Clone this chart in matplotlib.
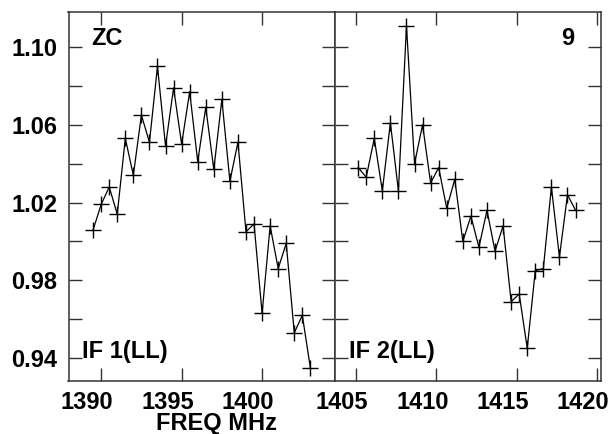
import matplotlib
matplotlib.use("Agg")
import matplotlib.pyplot as plt
from matplotlib.transforms import ScaledTranslation

plt.rcParams['font.family'] = ['Liberation Sans', 'DejaVu Sans']
plt.rcParams['font.weight'] = 'bold'

# IF 1 (LL) channels
freq1 = [1389.5, 1390.0, 1390.5, 1391.0, 1391.5, 1392.0, 1392.5, 1393.0,
         1393.5, 1394.0, 1394.5, 1395.0, 1395.5, 1396.0, 1396.5, 1397.0,
         1397.5, 1398.0, 1398.5, 1399.0, 1399.5, 1400.0, 1400.5, 1401.0,
         1401.5, 1402.0, 1402.5, 1403.0]
amp1 = [1.006, 1.019, 1.028, 1.014, 1.053, 1.034, 1.065, 1.051,
        1.090, 1.049, 1.079, 1.050, 1.077, 1.041, 1.069, 1.037,
        1.073, 1.031, 1.051, 1.005, 1.009, 0.963, 1.008, 0.986,
        0.999, 0.953, 0.962, 0.935]

# IF 2 (LL) channels
freq2 = [1405.15, 1405.65, 1406.15, 1406.65, 1407.15, 1407.65, 1408.15, 1408.65,
         1409.15, 1409.65, 1410.15, 1410.65, 1411.15, 1411.65, 1412.15, 1412.65,
         1413.15, 1413.65, 1414.15, 1414.65, 1415.15, 1415.65, 1416.15, 1416.65,
         1417.15, 1417.65, 1418.15, 1418.65]
amp2 = [1.038, 1.033, 1.053, 1.026, 1.061, 1.026, 1.111, 1.040,
        1.060, 1.030, 1.038, 1.017, 1.032, 1.000, 1.013, 0.997,
        1.016, 0.995, 1.008, 0.969, 0.973, 0.945, 0.985, 0.986,
        1.028, 0.992, 1.024, 1.016]

xticks1 = [1390, 1395, 1400]
xticks2 = [1405, 1410, 1415, 1420]
yticks = [0.94, 0.98, 1.02, 1.06, 1.10]
yminor = [0.96, 1.00, 1.04, 1.08]

FS = 17
W, H = 613, 434
fig = plt.figure(figsize=(W / 100, H / 100), dpi=100)

def px(x0, y0, x1, y1):
    return [x0 / W, 1 - y1 / H, (x1 - x0) / W, (y1 - y0) / H]

ax1 = fig.add_axes(px(68.5, 12, 334.5, 381))
ax2 = fig.add_axes(px(334.5, 12, 600.5, 381))

shift = ScaledTranslation(-14 / 100, 0, fig.dpi_scale_trans)

for ax, f, a, xt, xl in [(ax1, freq1, amp1, xticks1, (1387.97, 1404.5)),
                         (ax2, freq2, amp2, xticks2, (1403.68, 1420.2))]:
    ax.plot(f, a, color='black', lw=0.9, marker='+', ms=12, mew=1.0)
    ax.set_xlim(*xl)
    ax.set_ylim(0.9282, 1.118)
    ax.set_xticks(xt)
    ax.set_yticks(yticks)
    ax.set_yticks(yminor, minor=True)
    ax.tick_params(which='both', direction='in', top=True, right=True,
                   length=9.5, width=1, labelsize=FS, color='#333333')
    ax.tick_params(axis='x', pad=7)
    ax.tick_params(axis='y', pad=8)
    for s in ax.spines.values():
        s.set_linewidth(1.1)
        s.set_color('#333333')
    for lab in ax.get_xticklabels():
        lab.set_fontweight('bold')
        lab.set_transform(lab.get_transform() + shift)
    for lab in ax.get_yticklabels():
        lab.set_fontweight('bold')

ax1.set_yticklabels(['0.94', '0.98', '1.02', '1.06', '1.10'])
ax2.tick_params(labelleft=False)

def ftext(x, y, s, ha='left'):
    fig.text(x / W, 1 - y / H, s, ha=ha, va='baseline', fontsize=FS,
             fontweight='bold')

ftext(91, 45, "ZC")
ftext(574, 45, "9", ha='right')
ftext(82, 358, "IF 1(LL)")
ftext(349, 358, "IF 2(LL)")
ftext(217, 430, "FREQ MHz", ha='center')

fig.savefig("out.png", dpi=100)
